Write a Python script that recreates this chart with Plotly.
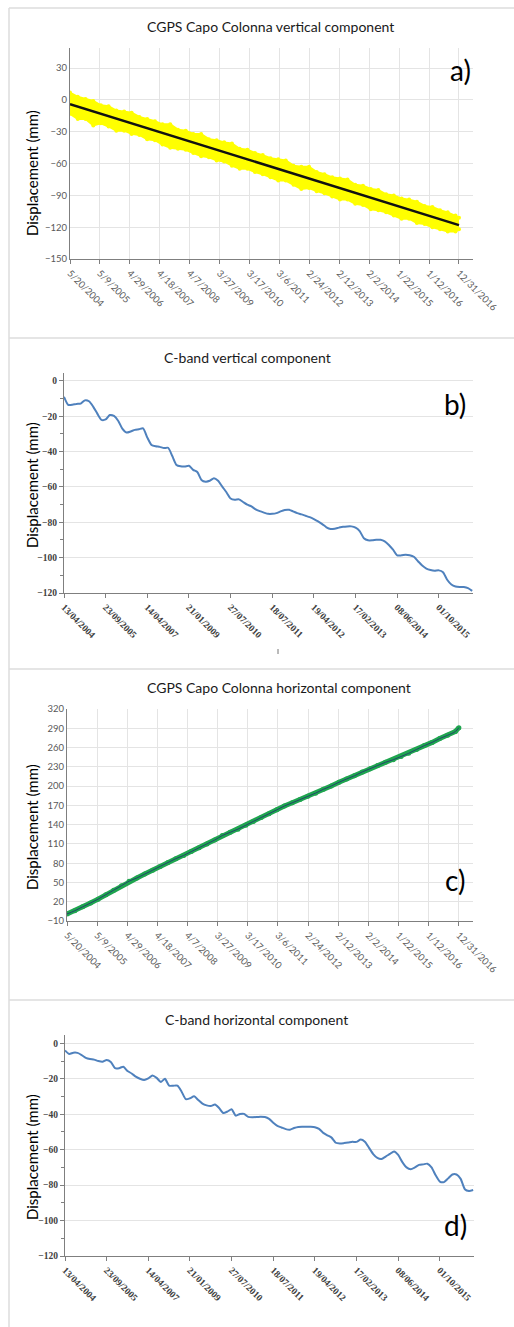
import plotly.graph_objects as go

# ---------------- DATA ----------------
# Panel a) CGPS vertical: sampled (quarterly) envelope of the daily yellow cloud
DATES_A = ["2004-05-20", "2004-08-20", "2004-11-20",
           "2005-02-20", "2005-05-20", "2005-08-20", "2005-11-20",
           "2006-02-20", "2006-05-20", "2006-08-20", "2006-11-20",
           "2007-02-20", "2007-05-20", "2007-08-20", "2007-11-20",
           "2008-02-20", "2008-05-20", "2008-08-20", "2008-11-20",
           "2009-02-20", "2009-05-20", "2009-08-20", "2009-11-20",
           "2010-02-20", "2010-05-20", "2010-08-20", "2010-11-20",
           "2011-02-20", "2011-05-20", "2011-08-20", "2011-11-20",
           "2012-02-20", "2012-05-20", "2012-08-20", "2012-11-20",
           "2013-02-20", "2013-05-20", "2013-08-20", "2013-11-20",
           "2014-02-20", "2014-05-20", "2014-08-20", "2014-11-20",
           "2015-02-20", "2015-05-20", "2015-08-20", "2015-11-20",
           "2016-02-20", "2016-05-20", "2016-08-20", "2016-11-20",
           "2016-12-31"]
VERT_UPPER = [7, 3, 1, -1, -5, -6, -10, -11, -12, -16, -18, -20, -23, -23, -28, -29,
              -32, -32, -37, -38, -40, -41, -46, -47, -50, -52, -55, -56, -57, -62,
              -63, -63, -68, -70, -73, -74, -75, -80, -81, -84, -85, -89, -90, -93,
              -94, -96, -100, -101, -104, -106, -109, -111]
VERT_LOWER = [-13, -18, -18, -24, -22, -25, -29, -29, -32, -33, -37, -38, -42, -45, -46,
              -47, -50, -53, -54, -57, -58, -62, -65, -65, -68, -70, -73, -76, -76, -80,
              -84, -83, -86, -88, -91, -94, -94, -98, -99, -103, -104, -106, -109, -112,
              -112, -116, -117, -120, -122, -124, -124, -122]
TREND_A_DATES = ["2004-05-20", "2016-12-31"]
TREND_A_VALUES = [-4, -118]

# Panel c) CGPS horizontal (same sampling dates)
HORIZ_GPS = [1, 6, 12, 18, 24, 31, 38, 45, 52, 57, 63, 69, 75, 81, 87, 92, 98, 104,
             110, 116, 123, 128, 133, 139, 145, 151, 157, 163, 169, 174, 179, 184, 189,
             195, 200, 206, 211, 216, 222, 227, 232, 237, 241, 246, 251, 257, 263, 268,
             274, 279, 285, 291]

GPS_TICKS = ["2004-05-20", "2005-05-09", "2006-04-29", "2007-04-18", "2008-04-07",
             "2009-03-27", "2010-03-17", "2011-03-06", "2012-02-24", "2013-02-12",
             "2014-02-02", "2015-01-22", "2016-01-12", "2016-12-31"]
GPS_TICK_LABELS = ["5/20/2004", "5/9/2005", "4/29/2006", "4/18/2007", "4/7/2008",
                   "3/27/2009", "3/17/2010", "3/6/2011", "2/24/2012", "2/12/2013",
                   "2/2/2014", "1/22/2015", "1/12/2016", "12/31/2016"]

# Panels b) and d) C-band series (acquisition index on a category axis)
CBAND_VERT = [-9, -13.5, -13.5, -13, -12.8, -11, -11.5, -14.5, -18.5, -22, -21.8, -19.3,
              -19.8, -22.5, -27, -29.2, -28.6, -27.7, -27.3, -26.8, -32, -36.2, -37, -37.3,
              -38, -37.8, -42.5, -47.5, -48.3, -48.4, -48, -50.3, -51.5, -56, -57, -56.5,
              -55, -56.5, -59.8, -63, -66.5, -67.2, -67, -68.5, -70, -71, -72.7, -73.7,
              -74.5, -75.2, -75.2, -74.8, -73.8, -73, -72.9, -73.8, -74.8, -75.5, -76.3,
              -77.1, -78.2, -79.5, -81, -82.8, -83.8, -83.6, -83, -82.5, -82.3, -82.3, -83,
              -85, -89, -90.2, -90.2, -89.9, -89.9, -90.8, -92.8, -95.5, -98.7, -98.7,
              -98.3, -98.6, -99.5, -102, -104.5, -106.2, -107, -107.4, -107.2, -108.3,
              -112.5, -115.2, -116.3, -116.6, -116.6, -117.2, -118.8]
CBAND_HORIZ = [-4, -6, -5.3, -5.4, -6.6, -8.2, -8.9, -9.2, -10, -10.4, -9.4, -10.5, -14,
               -14, -13.2, -15.6, -17, -18.8, -20, -20.7, -19.8, -18.2, -19.5, -21.8, -20,
               -23.9, -23.9, -23.9, -27.3, -31.5, -31, -29.9, -32, -34, -35, -35.4, -34.5,
               -36.5, -39.3, -38.5, -37.2, -40.8, -39.9, -39.8, -41.5, -41.7, -41.6, -41.4,
               -41.6, -42.6, -44.8, -46.6, -47.5, -48.4, -48.7, -47.8, -47.2, -47.1, -47.1,
               -47.1, -47.3, -48.3, -50.5, -51.9, -53.2, -56.1, -56.5, -56.3, -56, -55.6,
               -55.6, -54.3, -55.5, -59, -62.5, -64.7, -65.3, -63.9, -62.4, -61, -63, -67,
               -70, -71, -70, -68.6, -68.3, -67.9, -70, -74.5, -78, -78.3, -76.2, -74, -74,
               -76.5, -82.3, -83.3, -82.8]
CBAND_TICK_INDEX = [0, 10, 20, 30, 40, 50, 60, 70, 80, 90]
CBAND_TICK_LABELS = ["13/04/2004", "23/09/2005", "14/04/2007", "21/01/2009", "27/07/2010",
                     "18/07/2011", "19/04/2012", "17/02/2013", "08/06/2014", "01/10/2015"]

TITLES = ["CGPS Capo Colonna vertical component", "C-band vertical component",
          "CGPS Capo Colonna horizontal component", "C-band horizontal component"]
PANEL_LABELS = ["a)", "b)", "c)", "d)"]

# ---------------- LAYOUT HELPERS ----------------
W, H = 514, 1327
def fx(px):
    return px / W
def fy(py):
    return 1 - py / H

CBAND_IDX = list(range(len(CBAND_VERT)))
YELLOW = "#FFFF00"
GREEN = "#1FA54F"
BLUE = "#4F81BD"
SANS = "Lato"

fig = go.Figure()

# a) yellow cloud
fig.add_trace(go.Scatter(x=DATES_A, y=VERT_LOWER, mode="lines+markers",
                         line=dict(color=YELLOW, width=2), marker=dict(color=YELLOW, size=4),
                         xaxis="x", yaxis="y", showlegend=False))
fig.add_trace(go.Scatter(x=DATES_A, y=VERT_UPPER, mode="lines+markers", fill="tonexty",
                         fillcolor=YELLOW, line=dict(color=YELLOW, width=2),
                         marker=dict(color=YELLOW, size=4),
                         xaxis="x", yaxis="y", showlegend=False))
fig.add_trace(go.Scatter(x=TREND_A_DATES, y=TREND_A_VALUES, mode="lines",
                         line=dict(color="#111111", width=2.5),
                         xaxis="x", yaxis="y", showlegend=False))

# b) C-band vertical
fig.add_trace(go.Scatter(x=CBAND_IDX, y=CBAND_VERT, mode="lines",
                         line=dict(color=BLUE, width=2, shape="spline", smoothing=0.6),
                         xaxis="x2", yaxis="y2", showlegend=False))

# c) CGPS horizontal
fig.add_trace(go.Scatter(x=DATES_A, y=HORIZ_GPS, mode="lines+markers",
                         line=dict(color=GREEN, width=5), marker=dict(color=GREEN, size=5),
                         xaxis="x3", yaxis="y3", showlegend=False))
fig.add_trace(go.Scatter(x=DATES_A, y=HORIZ_GPS, mode="lines",
                         line=dict(color="#23456b", width=1, shape="spline"),
                         xaxis="x3", yaxis="y3", showlegend=False))

# d) C-band horizontal
fig.add_trace(go.Scatter(x=CBAND_IDX, y=CBAND_HORIZ, mode="lines",
                         line=dict(color=BLUE, width=2, shape="spline", smoothing=0.6),
                         xaxis="x4", yaxis="y4", showlegend=False))

GRID = "#e4e4e4"
AXC = "#7f7f7f"
gps_tick = dict(family=SANS, size=9.5, color="#595959")
cb_tick = dict(family="Liberation Serif", size=9.5, color="#404040", weight="bold")

gps_x = dict(type="date", range=["2004-05-20", "2017-06-15"], tickmode="array",
             tickvals=GPS_TICKS, ticktext=GPS_TICK_LABELS, tickangle=45, automargin=False,
             showgrid=True, gridcolor=GRID, showline=True, linecolor=AXC, linewidth=1.2,
             ticks="outside", ticklen=4, tickcolor=AXC, tickfont=gps_tick, zeroline=False)
cb_x = dict(range=[0, 98.2], tickmode="array", tickvals=CBAND_TICK_INDEX, automargin=False,
            ticktext=CBAND_TICK_LABELS, tickangle=45, showgrid=False, showline=True,
            linecolor=AXC, linewidth=1.2, ticks="outside", ticklen=4, tickcolor=AXC,
            tickfont=cb_tick, zeroline=False)

fig.update_layout(
    width=W, height=H, autosize=False, margin=dict(l=0, r=0, t=0, b=0, pad=0),
    paper_bgcolor="white", plot_bgcolor="white",
    xaxis=dict(gps_x, domain=[fx(70), fx(473)], anchor="y"),
    yaxis=dict(domain=[fy(259), fy(48)], range=[-150, 49], tick0=-150, dtick=30,
               automargin=False,
               showgrid=True, gridcolor=GRID, showline=True, linecolor=AXC, linewidth=1.2,
               ticks="", tickfont=gps_tick, zeroline=False, anchor="x"),
    xaxis2=dict(cb_x, domain=[fx(64), fx(473)], anchor="y2"),
    yaxis2=dict(domain=[fy(593), fy(373)], range=[-120, 4.5], tick0=0, dtick=20,
                automargin=False,
                showgrid=True, gridcolor=GRID, showline=True, linecolor=AXC, linewidth=1.2,
                ticks="outside", ticklen=4, tickcolor=AXC, tickfont=cb_tick, zeroline=False,
                minor=dict(dtick=10, ticks="outside", ticklen=3, tickcolor=AXC, showgrid=False),
                anchor="x2"),
    xaxis3=dict(gps_x, domain=[fx(67), fx(473)], anchor="y3"),
    yaxis3=dict(domain=[fy(921), fy(709)], range=[-10, 320], tick0=-10, dtick=30,
                automargin=False,
                showgrid=True, gridcolor=GRID, showline=True, linecolor=AXC, linewidth=1.2,
                ticks="", tickfont=gps_tick, zeroline=False, anchor="x3"),
    xaxis4=dict(cb_x, domain=[fx(65), fx(474)], anchor="y4"),
    yaxis4=dict(domain=[fy(1256), fy(1035)], range=[-120, 4.7], tick0=0, dtick=20,
                automargin=False,
                showgrid=True, gridcolor=GRID, showline=True, linecolor=AXC, linewidth=1.2,
                ticks="outside", ticklen=4, tickcolor=AXC, tickfont=cb_tick, zeroline=False,
                minor=dict(dtick=10, ticks="outside", ticklen=3, tickcolor=AXC, showgrid=False),
                anchor="x4"),
)

# panel frames
shapes = [dict(type="line", xref="paper", yref="paper", x0=fx(9), x1=fx(9),
               y0=fy(8), y1=0, line=dict(color="#dcdcdc", width=1.5))]
for py in [8, 338, 669, 1000]:
    shapes.append(dict(type="line", xref="paper", yref="paper", x0=fx(9), x1=1,
                       y0=fy(py), y1=fy(py), line=dict(color="#dcdcdc", width=1.5)))
# small stray tick mark under panel b (present in the original image)
shapes.append(dict(type="line", xref="paper", yref="paper", x0=fx(278), x1=fx(278),
                   y0=fy(649), y1=fy(654), line=dict(color="#777777", width=1)))
fig.update_layout(shapes=shapes)

anns = []
title_pos = [(270, 27), (247, 357), (279, 687), (256, 1019)]
for t, (px, py) in zip(TITLES, title_pos):
    anns.append(dict(text=t, x=fx(px), y=fy(py), xref="paper", yref="paper",
                     xanchor="center", yanchor="middle",
                     showarrow=False, font=dict(family=SANS, size=14, color="#1a1a1a")))
label_pos = [(460, 70), (455, 404), (455, 880), (455, 1225)]
for t, (px, py) in zip(PANEL_LABELS, label_pos):
    anns.append(dict(text=t, x=fx(px), y=fy(py), xref="paper", yref="paper",
                     xanchor="center", yanchor="middle",
                     showarrow=False, font=dict(family=SANS, size=28, color="#000000")))
ytitle_pos = [173, 485, 827, 1157]
for py in ytitle_pos:
    anns.append(dict(text="Displacement (mm)", x=fx(32), y=fy(py), xref="paper",
                     yref="paper", showarrow=False, textangle=-90,
                     xanchor="center", yanchor="middle",
                     font=dict(family=SANS, size=15, color="#000000")))
fig.update_layout(annotations=anns)

fig.write_html("out.html", config={"displayModeBar": False},
               post_script="document.body.style.margin='0';document.body.style.overflow='hidden';")
